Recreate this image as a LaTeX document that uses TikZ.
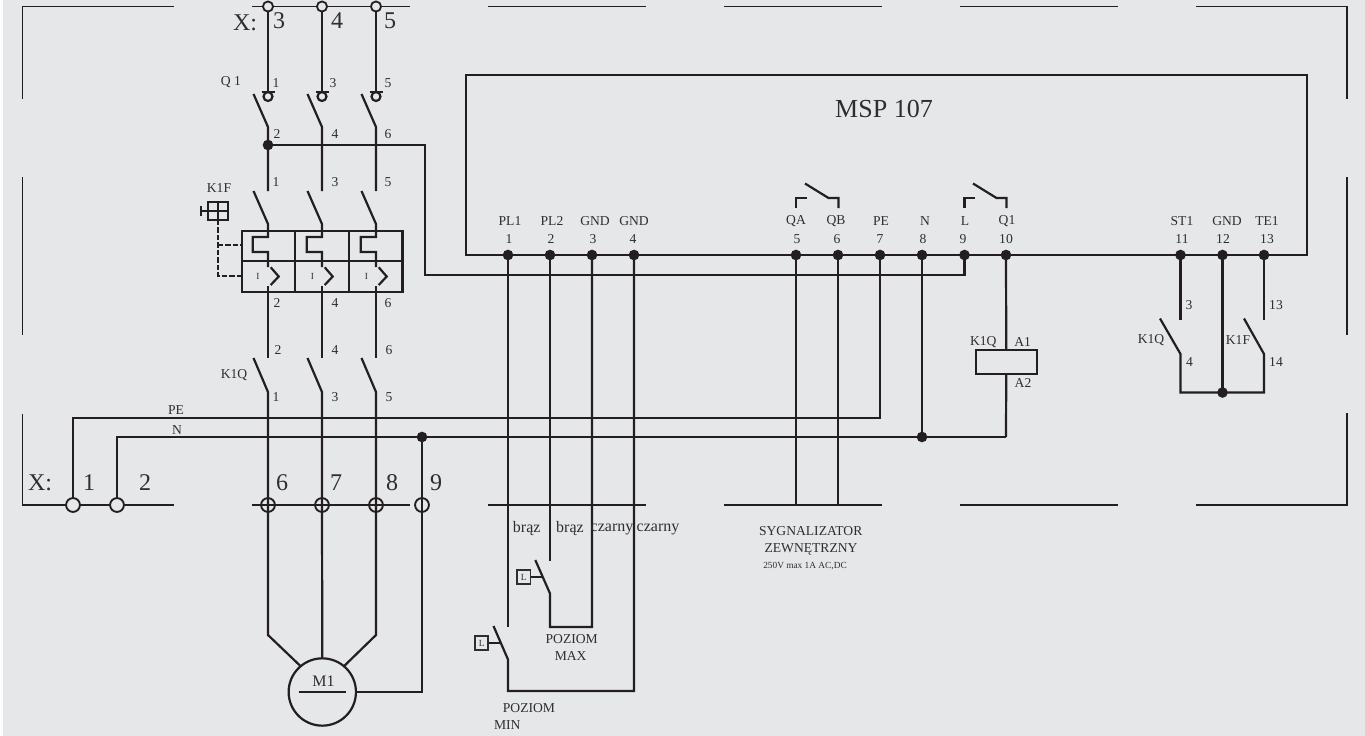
\documentclass[tikz,border=0pt]{standalone}
\usepackage{fontspec}
\setmainfont{Liberation Serif}
\definecolor{panel}{HTML}{E6E7E9}
\definecolor{ink}{HTML}{231F20}
\definecolor{txt}{HTML}{2E2E2F}
\tikzset{
  frameline/.style={ink,line width=1pt},
  wire/.style={ink,line width=1.65pt},
  thick wire/.style={ink,line width=2.1pt},
  ctrl/.style={ink,line width=1.65pt,dash pattern=on 4pt off 1.6pt},
  dot/.style={circle,fill=ink,draw=none,inner sep=0,minimum size=8pt,outer sep=0},
  term/.style={circle,draw=ink,fill=panel,line width=1.35pt,inner sep=0,minimum size=7.6pt,outer sep=0},
  bigterm/.style={circle,draw=ink,fill=panel,line width=1.4pt,inner sep=0,minimum size=10.4pt,outer sep=0},
  openterm/.style={bigterm,fill=none},
  lab/.style={txt,inner sep=0,font=\fontsize{10.2}{12}\selectfont},
  biglab/.style={txt,inner sep=0,font=\fontsize{18}{20}\selectfont},
  midlab/.style={txt,inner sep=0,font=\fontsize{12}{14}\selectfont}
}
\begin{document}
\begin{tikzpicture}[x=0.75pt,y=-0.75pt]

    \useasboundingbox (0,0) rectangle (1365,736);
    \fill[white] (0,0) rectangle (1365,736);
    \fill[panel] (3,0) rectangle (1365,736);

    % frame
    \draw[frameline] (22.5,99) -- (22.5,6.5) -- (174,6.5);
    \draw[frameline] (1196,6.5) -- (1347,6.5) -- (1347,99);
    \draw[frameline] (22.5,414) -- (22.5,505) -- (174,505);
    \draw[frameline] (1196,505) -- (1347,505) -- (1347,413);
    \draw[frameline] (22.5,177) -- (22.5,335);
    \draw[frameline] (1347,177) -- (1347,335);
    \foreach \x in {252,488,724,960} {
      \draw[frameline] (\x,6.5) -- (\x+158,6.5);
      \draw[frameline] (\x,505) -- (\x+158,505);
    }

    % terminals
    \foreach \x in {268,322,376} {
      \node[term] (top\x) at (\x,6.5) {};
      \node[openterm] (low\x) at (\x,505) {};
    }
    \node[openterm] (low422) at (422,505) {};
    \node[bigterm] (x1) at (73,505) {};
    \node[bigterm] (x2) at (117,505) {};

    \node[biglab] (xtop) at (245,23) {X:};
    \node[biglab] (n3) at (279,21) {3};
    \node[biglab] (n4) at (337,21) {4};
    \node[biglab] (n5) at (390,21) {5};
    \node[biglab] (xlow) at (40,483) {X:};
    \node[biglab] (n1) at (89,483) {1};
    \node[biglab] (n2) at (145,483) {2};
    \node[biglab] (n6) at (282,483) {6};
    \node[biglab] (n7) at (336,483) {7};
    \node[biglab] (n8) at (392,483) {8};
    \node[biglab] (n9) at (436,483) {9};

    % module
    \draw[thick wire] (466,75) rectangle (1307,255);
    \node[txt,inner sep=0,font=\fontsize{19.5}{22}\selectfont] (msp) at (884,109) {MSP 107};
    \foreach \n/\x in {1/508,2/550,3/592,4/634,5/796,6/838,7/880,8/922,9/964.5,10/1006,11/1180.5,12/1222.5,13/1264} {
      \node[dot] (p\n) at (\x,255) {};
    }
    \foreach \n/\x/\y/\t in {a1/510/221/PL1,a2/552/221/PL2,a3/595/221/GND,a4/634/221/GND,a5/796/221/QA,a6/836/221/QB,a7/881/221/PE,a8/925/221/N,a9/965/221/L,a10/1007/221/Q1,a11/1182/221/ST1,a12/1227/221/GND,a13/1267/221/TE1,
      b1/509/239/1,b2/551/239/2,b3/593/239/3,b4/633/239/4,b5/797/239/5,b6/837/239/6,b7/880/239/7,b8/923/239/8,b9/963/239/9,b10/1006/239/10,b11/1182/239/11,b12/1223/239/12,b13/1267/239/13} {
      \node[lab] (\n) at (\x,\y) {\t};
    }
    \draw[wire] (796,208) -- (796,198) -- (806.5,198);
    \draw[wire] (838.5,208) -- (838.5,198) -- (828.5,198) -- (805,183.5);
    \draw[wire] (964.5,208) -- (964.5,198) -- (975,198);
    \draw[wire] (1006.5,208) -- (1006.5,198) -- (996.5,198) -- (973,183.5);

    % three phases
    \foreach \x/\bx in {268/252.7,322/306.7,376/360.7} {
      \coordinate (qa\x) at (\x,92);
      \coordinate (qb\x) at (\x,127);
      \coordinate (fa\x) at (\x,191);
      \coordinate (fb\x) at (\x,224);
      \coordinate (fc\x) at (\x,286);
      \coordinate (ka\x) at (\x,358);
      \coordinate (kb\x) at (\x,392);
      \draw[wire] (top\x) -- (qa\x);
      \draw[wire] (\x-6.5,92) -- (\x+6.5,92);
      \draw[wire] (\x,96.5) circle (4.5);
      \draw[wire] (\x-14.5,94) -- (qb\x) -- (fa\x);
      \draw[wire] (\x-14.5,191) -- (fb\x) -- (\x,237) -- (\bx,237) -- (\bx,252) -- (\x,252) -- (\x,267);
      \draw[wire] (\x+2.7,267.3) -- (\x+10.7,276.5) -- (\x+2.7,285);
      \draw[wire] (fc\x) -- (ka\x);
      \draw[wire] (\x-14.5,358) -- (kb\x) -- (low\x.center);
    }

    % breaker
    \draw[wire] (242,231) rectangle (402.5,292);
    \draw[wire] (242,261) -- (402.5,261);
    \draw[wire] (295,231) -- (295,292);
    \draw[wire] (349,231) -- (349,292);
    \draw[wire] (208,202) rectangle (228,220);
    \draw[wire] (218,202) -- (218,220);
    \draw[wire] (208,211) -- (228,211);
    \draw[wire] (208,211) -- (201,211);
    \draw[wire] (201,206) -- (201,216);
    \draw[ctrl] (218,220) -- (218,276) -- (242,276);
    \draw[ctrl] (218,244.7) -- (242,244.7);

    \foreach \n/\x/\y/\t in {c1/231/82/Q 1,c2/276/83/1,c3/333/83/3,c4/388/83/5,c5/277/134/2,c6/335/134/4,c7/388/134/6,
      c8/219/188/K1F,c9/276/182/1,c10/335/182/3,c11/388/182/5,c12/277/303/2,c13/335/303/4,c14/388/303/6,
      c15/234/375/K1Q,c16/278/350/2,c17/335/350/4,c18/389/350/6,c19/276/397/1,c20/335/397/3,c21/389/397/5,
      c22/176/410/PE,c23/177/430/N} {
      \node[lab] (\n) at (\x,\y) {\t};
    }
    \foreach \n/\x in {i1/258,i2/312.5,i3/366.5} {
      \node[txt,inner sep=0,font=\fontsize{7}{8}\selectfont] (\n) at (\x,276) {I};
    }

    % feed to module
    \node[dot] (j268) at (268,145) {};
    \coordinate (feedA) at (425,145);
    \coordinate (feedB) at (425,275);
    \draw[wire] (j268.center) -- (feedA) -- (feedB) -| (p9.center);

    % PE and N
    \coordinate (pebend) at (880,418);
    \coordinate (nbend) at (1006,437);
    \node[dot] (j422) at (422,437) {};
    \node[dot] (j922) at (922,437) {};
    \draw[wire] (x1) |- (pebend) -- (p7.center);
    \draw[wire] (x2) |- (j422.center) -- (j922.center) -- (nbend);
    \draw[wire] (p8.center) -- (j922.center);

    % motor
    \node[circle,draw=ink,line width=1.65pt,inner sep=0,minimum size=50.5pt,outer sep=0] (motor) at (322.3,692) {};
    \node[midlab] (m1) at (323.6,681) {M1};
    \draw[wire] (298.7,692.3) -- (345.7,692.3);
    \coordinate (ml) at (268,635);
    \coordinate (mr) at (376,635);
    \coordinate (mtail) at (422,692);
    \draw[wire] (low268.center) -- (ml) -- (motor.130);
    \draw[wire] (low376.center) -- (mr) -- (motor.50);
    \draw[wire] (low322.center) -- (motor.north);
    \draw[wire] (j422.center) -- (mtail) -- (motor.east);

    % level switches
    \coordinate (maxtop) at (550,561);
    \coordinate (maxblade) at (535.3,560);
    \coordinate (maxbot) at (550,593.5);
    \coordinate (maxlow) at (550,627);
    \draw[wire] (p2.center) -- (maxtop);
    \draw[wire] (maxblade) -- (maxbot) -- (maxlow) -| (p3.center);
    \node[rectangle,draw=ink,line width=1.4pt,inner sep=0,minimum size=10pt,lab,font=\fontsize{7}{8}\selectfont] (lmax) at (523.8,577) {L};
    \draw[wire] (lmax) -- (542.7,577);
    \coordinate (mintop) at (508,627);
    \coordinate (minblade) at (493.5,626);
    \coordinate (minbot) at (508,659.5);
    \coordinate (minlow) at (508,691);
    \draw[wire] (p1.center) -- (mintop);
    \draw[wire] (minblade) -- (minbot) -- (minlow) -| (p4.center);
    \node[rectangle,draw=ink,line width=1.4pt,inner sep=0,minimum size=10pt,lab,font=\fontsize{7}{8}\selectfont] (lmin) at (481.7,643) {L};
    \draw[wire] (lmin) -- (500,643);

    \node[midlab] (w1) at (526.7,529) {brąz};
    \node[midlab] (w2) at (570,529) {brąz};
    \node[midlab] (w3) at (612,529) {czarny};
    \node[midlab] (w4) at (658,529) {czarny};
    \node[lab] (pmax) at (571.7,638.7) {POZIOM};
    \node[lab] (pmaxb) at (570.7,656) {MAX};
    \node[lab] (pmin) at (529,707.7) {POZIOM};
    \node[lab] (pminb) at (507.3,725) {MIN};

    % signal
    \coordinate (sa) at (796,505);
    \coordinate (sb) at (838,505);
    \draw[wire] (p5.center) -- (sa);
    \draw[wire] (p6.center) -- (sb);
    \node[lab] (sig) at (810.7,530.7) {SYGNALIZATOR};
    \node[lab] (sigb) at (811,549.3) {ZEWNĘTRZNY};
    \node[txt,inner sep=0,font=\fontsize{7}{8}\selectfont] (sigc) at (805,566) {250V max 1A AC,DC};

    % coil
    \node[rectangle,draw=ink,line width=1.65pt,inner sep=0,minimum width=45.5pt,minimum height=18.2pt,outer sep=0] (coil) at (1006.3,362.2) {};
    \draw[wire] (p10.center) -- (coil);
    \draw[wire] (coil) -- (nbend);
    \node[lab] (k1q) at (983.3,342.3) {K1Q};
    \node[lab] (a1) at (1022.7,342.3) {A1};
    \node[lab] (a2) at (1023,383.3) {A2};

    % auxiliary contacts
    \node[dot] (j12) at (1222.5,392.5) {};
    \coordinate (sta) at (1180.5,320);
    \coordinate (stb) at (1180.5,354);
    \coordinate (tea) at (1264,320);
    \coordinate (teb) at (1264,354);
    \draw[wire] (p11.center) -- (sta);
    \draw[wire] (1160,318.5) -- (stb) |- (j12.center);
    \draw[wire] (p13.center) -- (tea);
    \draw[wire] (1244,318.5) -- (teb) |- (j12.center);
    \draw[wire] (p12.center) -- (j12.center);
    \foreach \n/\x/\y/\t in {d1/1189/305/3,d2/1276/305/13,d3/1151/340/K1Q,d4/1238/340/K1F,d5/1189.5/362/4,d6/1276/362/14} {
      \node[lab] (\n) at (\x,\y) {\t};
    }
  \end{tikzpicture}
\end{document}
